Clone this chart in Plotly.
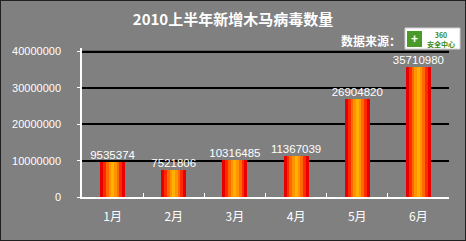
import plotly.graph_objects as go

months = ["1月", "2月", "3月", "4月", "5月", "6月"]
values = [9535374, 7521806, 10316485, 11367039, 26904820, 35710980]
y_ticks = [0, 10000000, 20000000, 30000000, 40000000]
y_tick_text = ["0", "10000000", "20000000", "30000000", "40000000"]

layers = [
    (0.41, "#e80000"),
    (0.31, "#ff2a00"),
    (0.22, "#ff6a00"),
    (0.13, "#ff9400"),
    (0.05, "#ffb000"),
]

fig = go.Figure()
for w, c in layers:
    fig.add_trace(go.Bar(
        x=months, y=values, width=w, marker=dict(color=c, line=dict(width=0)),
        showlegend=False, hoverinfo="skip",
    ))

fig.add_trace(go.Scatter(
    x=months, y=values, mode="text", text=[str(v) for v in values],
    textposition="top center", cliponaxis=False,
    textfont=dict(color="white", size=11.5, family="Liberation Sans"),
    showlegend=False, hoverinfo="skip",
))

T, B, L, R = 48, 44, 82, 17
PH, PW = 241 - T - B, 466 - L - R
y_max = 41000000

fig.update_layout(
    width=466, height=241,
    margin=dict(l=L, r=R, t=T, b=B),
    paper_bgcolor="#808080", plot_bgcolor="#808080",
    barmode="overlay", bargap=0,
    font=dict(family="Liberation Sans", color="white", size=11),
    title=dict(text="<b>2010上半年新增木马病毒数量</b>", x=0.5, xanchor="center",
               y=1 - 20 / 241, yanchor="middle",
               font=dict(family="Noto Sans CJK SC", size=15, color="white")),
    xaxis=dict(showgrid=False, showline=True, linecolor="white", linewidth=1.5,
               ticks="inside", tickson="boundaries", tickcolor="white", ticklen=4,
               ticklabelstandoff=8,
               tickfont=dict(family="Noto Sans CJK SC", size=12, color="white")),
    yaxis=dict(range=[0, y_max], tickvals=y_ticks, ticktext=y_tick_text,
               showgrid=True, gridcolor="black", gridwidth=1.5,
               showline=True, linecolor="white", linewidth=1.5,
               ticks="outside", tickcolor="white", ticklen=3,
               ticklabelstandoff=14,
               zeroline=False,
               tickfont=dict(family="Liberation Sans", size=11, color="white")),
    shapes=[
        dict(type="line", xref="paper", yref="y", x0=0, x1=1,
             y0=y_ticks[-1], y1=y_ticks[-1],
             line=dict(color="black", width=2), layer="above"),
        dict(type="rect", xref="paper", yref="paper", x0=-L/PW, x1=1+R/PW,
             y0=-B/PH, y1=1+T/PH, line=dict(color="#202020", width=2)),
        dict(type="rect", xref="paper", yref="paper",
             x0=(405-L)/PW, x1=(460-L)/PW, y0=(241-49-B)/PH, y1=(241-28-B)/PH,
             fillcolor="white", line=dict(color="#d0d0d0", width=1), layer="above"),
        dict(type="rect", xref="paper", yref="paper",
             x0=(407-L)/PW, x1=(422-L)/PW, y0=(241-47-B)/PH, y1=(241-31-B)/PH,
             fillcolor="#4a9a2a", line=dict(width=0), layer="above"),
    ],
    annotations=[
        dict(text="<b>数据来源：</b>", xref="paper", yref="paper",
             x=(403-L)/PW, y=(241-41-B)/PH, xanchor="right", yanchor="middle",
             showarrow=False, font=dict(family="Noto Sans CJK SC", size=12, color="white")),
        dict(text="<b>360<br>安全中心</b>", xref="paper", yref="paper",
             x=(441-L)/PW, y=(241-39-B)/PH, xanchor="center", yanchor="middle",
             showarrow=False, font=dict(family="Noto Sans CJK SC", size=7, color="#3a8a1a")),
        dict(text="<b>+</b>", xref="paper", yref="paper",
             x=(414.5-L)/PW, y=(241-39-B)/PH, xanchor="center", yanchor="middle",
             showarrow=False, font=dict(family="Liberation Sans", size=12, color="white")),
    ],
)

fig.write_html("out.html")
